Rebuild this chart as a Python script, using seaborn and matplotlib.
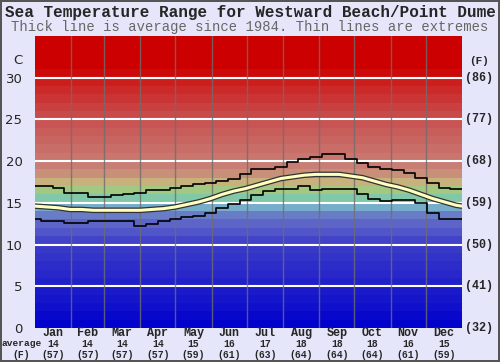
import numpy as np
import pandas as pd
import seaborn as sns
import matplotlib.pyplot as plt
import matplotlib.patheffects as pe
from matplotlib.colors import LinearSegmentedColormap

months = ['Jan', 'Feb', 'Mar', 'Apr', 'May', 'Jun',
          'Jul', 'Aug', 'Sep', 'Oct', 'Nov', 'Dec']
month_avg_c = [14, 14, 14, 14, 15, 16, 17, 18, 18, 18, 16, 15]
month_avg_f = [57, 57, 57, 57, 59, 61, 63, 64, 64, 64, 61, 59]
month_days = [31, 28, 31, 30, 31, 30, 31, 31, 30, 31, 30, 31]

day = [0, 10, 20, 30, 40, 50, 60, 70, 80, 90, 100, 110, 120, 130, 140, 150,
       160, 170, 180, 190, 200, 210, 220, 230, 240, 250, 260, 270, 280, 290,
       300, 310, 320, 330, 340, 350, 360, 365]
t_max = [17.0, 17.0, 16.8, 16.2, 16.2, 15.7, 15.7, 15.9, 16.0, 16.2, 16.5,
         16.5, 16.8, 17.0, 17.2, 17.4, 17.6, 17.8, 18.4, 19.0, 19.1, 19.3,
         19.9, 20.3, 20.5, 20.9, 20.8, 20.3, 19.8, 19.3, 19.1, 18.9, 18.6,
         18.0, 17.4, 16.8, 16.6, 16.6]
t_avg = [14.6, 14.5, 14.4, 14.2, 14.2, 14.1, 14.1, 14.1, 14.1, 14.1, 14.2,
         14.3, 14.5, 14.8, 15.1, 15.5, 16.0, 16.4, 16.7, 17.1, 17.5, 17.9,
         18.1, 18.3, 18.4, 18.4, 18.4, 18.2, 18.0, 17.6, 17.2, 16.9, 16.5,
         16.0, 15.5, 15.1, 14.7, 14.6]
t_min = [13.0, 12.8, 12.8, 12.6, 12.6, 12.8, 12.8, 12.8, 12.8, 12.2, 12.5,
         12.8, 13.0, 13.3, 13.4, 13.8, 14.4, 14.8, 15.3, 15.9, 16.4, 16.6,
         16.6, 17.0, 16.5, 16.6, 16.6, 16.6, 16.1, 15.5, 15.2, 15.3, 15.3,
         15.0, 13.8, 13.1, 13.0, 13.1]

c_ticks = [0, 5, 10, 15, 20, 25, 30]
f_labels = ['(32)', '(41)', '(50)', '(59)', '(68)', '(77)', '(86)']

df = pd.DataFrame({'day': day, 'max': t_max, 'avg': t_avg, 'min': t_min})

# background colour bands, one per degree
band_anchor_t = [0, 10, 13, 14, 15, 16, 17, 18, 19, 25, 30, 31, 35]
band_anchor_rgb = [(0, 0, 205), (60, 60, 200), (100, 110, 200), (110, 140, 200),
                   (125, 200, 205), (130, 200, 130), (200, 200, 130),
                   (200, 160, 120), (200, 130, 120), (200, 80, 80),
                   (205, 25, 25), (204, 0, 0), (204, 0, 0)]
cmap = LinearSegmentedColormap.from_list(
    'sea', [(t / 35, tuple(c / 255 for c in rgb))
            for t, rgb in zip(band_anchor_t, band_anchor_rgb)])

sns.set_style('white')
plt.rcParams['font.family'] = ['DejaVu Sans']

fig = plt.figure(figsize=(5, 3.62), dpi=100, facecolor='#e6e6fa',
                 edgecolor='#555555', linewidth=1.5)
ax = fig.add_axes([0.07, 0.094, 0.854, 0.807])

for d in range(35):
    ax.axhspan(d, d + 1, color=cmap((d + 0.5) / 35), lw=0, zorder=0)

for t in c_ticks[1:]:
    ax.axhline(t, color='white', lw=1.5, zorder=1)

bounds = np.cumsum(month_days)
for b in bounds[:-1]:
    ax.axvline(b, color='#6e6e6e', lw=1, alpha=0.8, zorder=1)

sns.lineplot(data=df, x='day', y='max', color='black', lw=1.2,
             drawstyle='steps-mid', ax=ax, zorder=3)
sns.lineplot(data=df, x='day', y='min', color='black', lw=1.2,
             drawstyle='steps-mid', ax=ax, zorder=3)
sns.lineplot(data=df, x='day', y='avg', color='#ffffc0', lw=2.2,
             ax=ax, zorder=4,
             path_effects=[pe.Stroke(linewidth=4.0, foreground='#333333'),
                           pe.Normal()])

ax.set_xlim(0, 365)
ax.set_ylim(0, 35)
for s in ax.spines.values():
    s.set_visible(False)
ax.set_xlabel('')
ax.set_ylabel('')
ax.set_xticks([])
ax.set_yticks(c_ticks)
ax.set_yticklabels([str(t) for t in c_ticks], fontsize=9.5)
ax.tick_params(axis='y', length=0, pad=9)

# right hand Fahrenheit labels
for t, lab in zip(c_ticks, f_labels):
    ax.text(1.007, t, lab, transform=ax.get_yaxis_transform(),
            family='Liberation Mono', weight='bold', fontsize=8.5,
            va='center', ha='left')
ax.text(1.04, 32, '(F)', transform=ax.get_yaxis_transform(),
        family='Liberation Mono', weight='bold', fontsize=8,
        va='center', ha='center')
ax.text(-0.04, 32, 'C', transform=ax.get_yaxis_transform(),
        fontsize=9.5, va='center', ha='center')

# month labels and averages
starts = np.concatenate([[0], bounds[:-1]])
mids = (starts + bounds) / 2
xt = ax.get_xaxis_transform()
for m, name, c, f in zip(mids, months, month_avg_c, month_avg_f):
    ax.text(m, -0.018, name, transform=xt, family='Liberation Mono',
            weight='bold', fontsize=8.5, ha='center', va='center')
    ax.text(m, -0.056, str(c), transform=xt, family='Liberation Mono',
            weight='bold', fontsize=7, ha='center', va='center')
    ax.text(m, -0.094, f'({f})', transform=xt, family='Liberation Mono',
            weight='bold', fontsize=7, ha='center', va='center')
fig.text(0.043, 1 - 344 / 362, 'average', family='Liberation Mono',
         weight='bold', fontsize=6.8, ha='center', va='center')
fig.text(0.043, 1 - 355 / 362, '(F)', family='Liberation Mono',
         weight='bold', fontsize=7, ha='center', va='center')

fig.text(0.5, 1 - 13 / 362,
         'Sea Temperature Range for Westward Beach/Point Dume',
         family='Liberation Mono', weight='bold', fontsize=11.5,
         ha='center', va='center')
fig.text(0.5, 1 - 27 / 362,
         'Thick line is average since 1984. Thin lines are extremes',
         family='Liberation Mono', color='#666666', fontsize=10,
         ha='center', va='center')

fig.savefig('out.png', dpi=100)
